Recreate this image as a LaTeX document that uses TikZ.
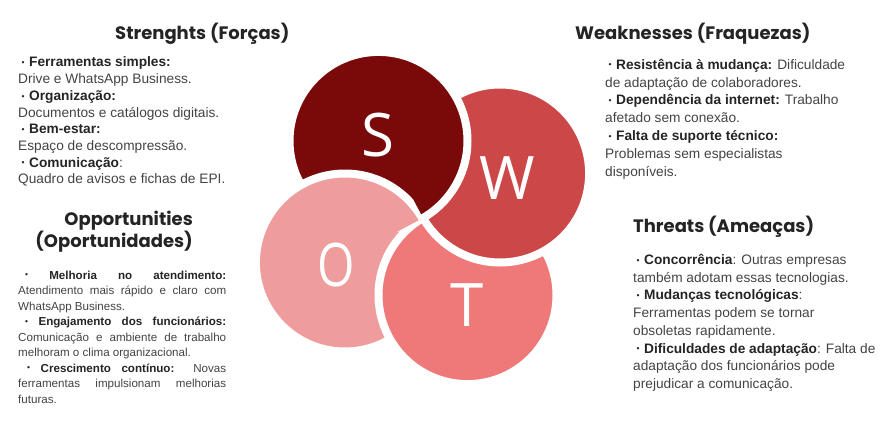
\documentclass[tikz,border=0pt]{standalone}
\usepackage{fontspec}
\usepackage{graphicx}
\setmainfont{Liberation Sans}
\newfontfamily\headfont{Poppins}
\newfontfamily\letterfont{Open Sans}

\definecolor{sred}{HTML}{7A0A0A}
\definecolor{wred}{HTML}{CC4747}
\definecolor{ored}{HTML}{EE9C9C}
\definecolor{tred}{HTML}{EF7878}
\definecolor{bodygray}{HTML}{434343}
\definecolor{ink}{HTML}{242424}

% bold, dark run of text
\newcommand\hl[1]{\textcolor{ink}{\textbf{#1}}}
% small bullet mark, lifted to the middle of the lowercase letters
\newcommand\dotmark{\raisebox{1.3pt}{\textcolor{ink}{\fontsize{8.5}{8.5}\selectfont •}}}
% bullet that opens an item
\newcommand\bul{\hspace*{3.5pt}\dotmark\hspace{4.5pt}}

\begin{document}
\begin{tikzpicture}[x=1pt,y=-1pt,
  petal/.style={draw=white, line width=8pt},
  head/.style={inner sep=0pt, text=ink,
    font=\headfont\bfseries\fontsize{18}{22}\selectfont},
  blocktext/.style={anchor=base west, inner sep=0pt, text=bodygray},
  letter/.style={anchor=base, inner sep=0pt, text=white,
    font=\letterfont\fontsize{60}{60}\selectfont}]
\useasboundingbox (0,0) rectangle (894,447);

% common point where the four circles meet
\coordinate (P) at (423,218);
\coordinate (cS) at (378.5,140.9);
\coordinate (cW) at (500.1,173.5);
\coordinate (cT) at (467.5,295.1);
\coordinate (cO) at (344.9,262.5);

% circles, each one covering the next
\path[petal, fill=ored] (cO) circle (89pt);
\path[petal, fill=tred] (cT) circle (89pt);
\path[petal, fill=wred] (cW) circle (89pt);
\path[petal, fill=sred] (cS) circle (89pt);
% O laid back over S to close the ring
\begin{scope}
  \clip (P) -- (282.2,-46.9) -- (133,140) -- (158,359) -- cycle;
  \path[petal, fill=ored] (cO) circle (89pt);
\end{scope}

\node[letter] (lS) at (378.3,156.5) {S};
\node[letter] (lW) at (507.5,199.3) {W};
\node[letter] (lO) at (336,286) {\scalebox{0.8}[1]{O}};
\node[letter] (lT) at (466.7,326) {T};

% headings
\node[head, anchor=base west] (hS) at (115,39.3) {Strenghts (Forças)};
\node[head, anchor=base west] (hW) at (575,39.3) {Weaknesses (Fraquezas)};
\node[head, anchor=base east] (hO1) at (193,225) {Opportunities};
\node[head, anchor=base east] (hO2) at (193,247.3) {(Oportunidades)};
\node[head, anchor=base west] (hT) at (633,232.3) {Threats (Ameaças)};

% strengths
\node[blocktext] (tS) at (18,66.9) {\parbox[t]{260pt}{\fontsize{13.7}{16.7}\selectfont
\bul\hl{Ferramentas simples:}\\
Drive e WhatsApp Business.\\
\bul\hl{Organização:}\\
Documentos e catálogos digitais.\\
\bul\hl{Bem-estar:}\\
Espaço de descompressão.\\
\bul\hl{Comunicação}:\\
Quadro de avisos e fichas de EPI.}};

% weaknesses
\node[blocktext] (tW) at (605,69.2) {\parbox[t]{280pt}{\fontsize{13.7}{17.8}\selectfont
\bul\hl{Resistência à mudança:} Dificuldade\\
de adaptação de colaboradores.\\
\bul\hl{Dependência da internet:} Trabalho\\
afetado sem conexão.\\
\bul\hl{Falta de suporte técnico:}\\
Problemas sem especialistas\\
disponíveis.}};

% threats
\node[blocktext] (tT) at (633,264.5) {\parbox[t]{260pt}{\fontsize{13.7}{17.7}\selectfont
\bul\hl{Concorrência}: Outras empresas\\
também adotam essas tecnologias.\\
\bul\hl{Mudanças tecnológicas}:\\
Ferramentas podem se tornar\\
obsoletas rapidamente.\\
\bul\hl{Dificuldades de adaptação}: Falta de\\
adaptação dos funcionários pode\\
prejudicar a comunicação.}};

% opportunities, justified to a fixed measure
\node[blocktext] (tO) at (18,279) {\parbox[t]{208pt}{\fontsize{11.6}{15.5}\selectfont
\makebox[208pt][s]{\hspace*{7pt}\dotmark{} \hl{Melhoria} \hl{no} \hl{atendimento:}}\\
\makebox[208pt][s]{Atendimento mais rápido e claro com}\\
WhatsApp Business.\\
\makebox[208pt][s]{\hspace*{7pt}\dotmark{} \hl{Engajamento} \hl{dos} \hl{funcionários:}}\\
\makebox[208pt][s]{Comunicação e ambiente de trabalho}\\
melhoram o clima organizacional.\\
\makebox[208pt][s]{\hspace*{9pt}\dotmark{} \hl{Crescimento} \hl{contínuo:} Novas}\\
\makebox[208pt][s]{ferramentas impulsionam melhorias}\\
futuras.}};
\end{tikzpicture}
\end{document}
